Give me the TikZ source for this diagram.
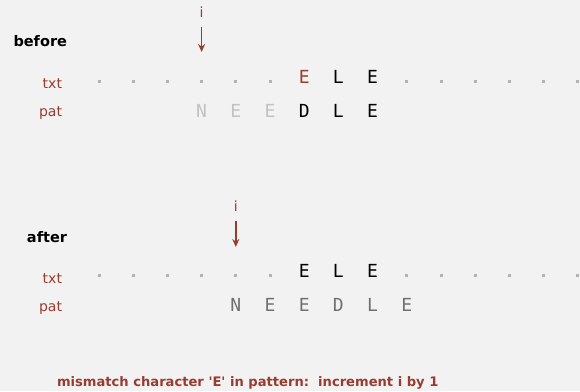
\documentclass[tikz,border=0pt]{standalone}
\usepackage{fontspec}
\setmainfont{DejaVu Sans}
\newfontfamily\monofont{DejaVu Sans Mono}
\usetikzlibrary{arrows.meta}
\definecolor{bg}{HTML}{F2F2F2}
\definecolor{bookred}{HTML}{9A3B30}
\definecolor{dotgray}{HTML}{B3B3B3}
\definecolor{lightgray}{HTML}{C2C2C2}
\definecolor{midgray}{HTML}{707070}
\begin{document}
\begin{tikzpicture}
  [x=1pt,y=-1pt,
   every node/.style={inner sep=0pt,outer sep=0pt},
   chr/.style={font=\monofont\fontsize{18}{18}\selectfont,anchor=base},
   dotbox/.style={fill=dotgray,minimum width=3pt,minimum height=3pt},
   lbl/.style={font=\fontsize{14}{14}\selectfont,text=bookred,anchor=base east},
   hdr/.style={font=\bfseries\fontsize{14.5}{14.5}\selectfont,anchor=base east},
   idx/.style={font=\fontsize{14}{14}\selectfont,text=bookred,anchor=base},
   ptr/.style={draw=bookred,line width=1.5pt,shorten <=10pt,-{Stealth[length=8pt,width=7pt]}}]
  \useasboundingbox[fill=bg] (0,0) rectangle (580,391);

  % before
  \node[hdr] (before) at (67,46) {before};
  \node[lbl] (txt1) at (62,88) {txt};
  \node[lbl] (pat1) at (62,116) {pat};
  \foreach \k in {0,1,2,3,4,5,9,10,11,12,13,14}
    \node[dotbox] (bt\k) at (99+34.2*\k,81) {};
  \foreach \k/\c/\col in {6/E/bookred, 7/L/black, 8/E/black}
    \node[chr,text=\col] (bt\k) at (99+34.2*\k,83) {\c};
  \foreach \k/\c/\col in {3/N/lightgray, 4/E/lightgray, 5/E/lightgray, 6/D/black, 7/L/black, 8/E/black}
    \node[chr,text=\col] (bp\k) at (99+34.2*\k,117) {\c};
  \node[idx] (i1) at (201.6,17) {i};
  \coordinate (tip1) at (201.6,52);
  \draw[ptr] (i1.base) -- (tip1);

  % after
  \node[hdr] (after) at (67,242) {after};
  \node[lbl] (txt2) at (62,283) {txt};
  \node[lbl] (pat2) at (62,311) {pat};
  \foreach \k in {0,1,2,3,4,5,9,10,11,12,13,14}
    \node[dotbox] (at\k) at (99+34.2*\k,275) {};
  \foreach \k/\c in {6/E, 7/L, 8/E}
    \node[chr] (at\k) at (99+34.2*\k,277) {\c};
  \foreach \k/\c in {4/N, 5/E, 6/E, 7/D, 8/L, 9/E}
    \node[chr,text=midgray] (ap\k) at (99+34.2*\k,311) {\c};
  \node[idx] (i2) at (235.8,211) {i};
  \coordinate (tip2) at (235.8,247);
  \draw[ptr] (i2.base) -- (tip2);

  \node[font=\bfseries\fontsize{13.1}{13.1}\selectfont,text=bookred,anchor=base west] (note) at (57,386)
    {mismatch character \textquotesingle E\textquotesingle{} in pattern:\ \ increment i by 1};
\end{tikzpicture}
\end{document}
